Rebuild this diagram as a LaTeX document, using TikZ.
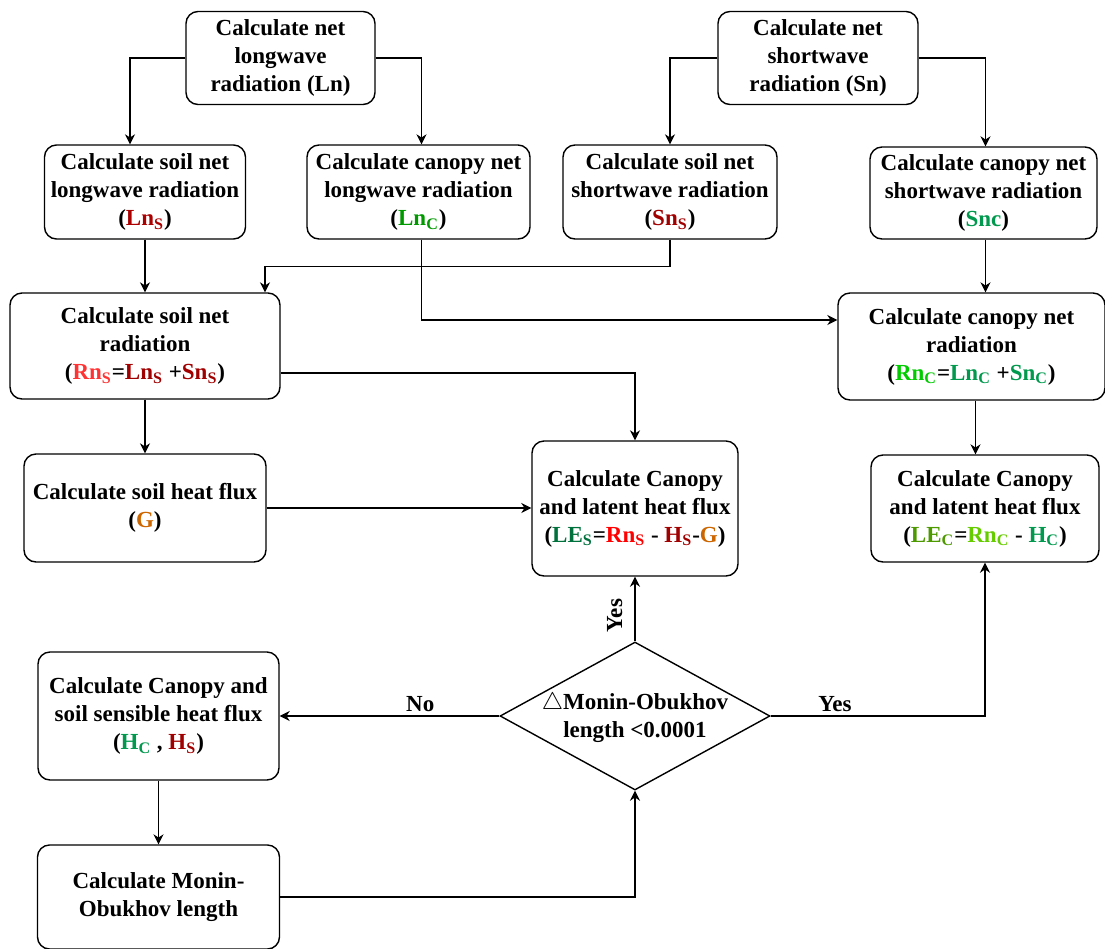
\documentclass[tikz,border=0pt]{standalone}
\usepackage{fontspec}
\setmainfont{Liberation Serif}
\usetikzlibrary{arrows.meta,shapes.geometric}

\definecolor{soilred}{RGB}{160,0,0}
\definecolor{rnsred}{RGB}{255,51,51}
\definecolor{lnsred}{RGB}{170,0,0}
\definecolor{lncgreen}{RGB}{0,153,0}
\definecolor{tealgreen}{RGB}{0,153,77}
\definecolor{rncgreen}{RGB}{0,204,0}
\definecolor{lesgreen}{RGB}{0,112,60}
\definecolor{lecgreen}{RGB}{77,153,0}
\definecolor{limegreen}{RGB}{102,204,0}
\definecolor{gorange}{RGB}{204,102,0}

\tikzset{
  box/.style={draw, rounded corners=6pt, align=center, inner sep=1pt, line width=0.7pt,
    font=\bfseries\fontsize{11.5}{14}\selectfont},
  arr/.style={-{Stealth[length=5pt,width=5pt]}, line width=0.7pt},
  lbl/.style={font=\bfseries\fontsize{11.5}{14}\selectfont, inner sep=2pt},
}

\begin{document}
\begin{tikzpicture}[x=0.5pt,y=-0.5pt]
  \useasboundingbox (0,0) rectangle (1105,949);
  % net radiation, first row
  \node[box, minimum width=94.5pt, minimum height=46.5pt] (ln) at (280.5,58) {Calculate net\\longwave\\radiation (Ln)};
  \node[box, minimum width=100pt, minimum height=46.5pt] (sn) at (818,58) {Calculate net\\shortwave\\radiation (Sn)};
  % soil and canopy parts
  \node[box, minimum width=100.5pt, minimum height=47pt] (slw) at (145,192) {Calculate soil net\\longwave radiation\\({\color{lnsred}Ln\textsubscript{S}})};
  \node[box, minimum width=111.5pt, minimum height=47pt] (clw) at (418.5,192) {Calculate canopy net\\longwave radiation\\({\color{lncgreen}Ln\textsubscript{C}})};
  \node[box, minimum width=107pt, minimum height=47pt] (ssw) at (670,192) {Calculate soil net\\shortwave radiation\\({\color{soilred}Sn\textsubscript{S}})};
  \node[box, minimum width=113.5pt, minimum height=46pt] (csw) at (983.5,193) {Calculate canopy net\\shortwave radiation\\({\color{tealgreen}Snc})};
  \node[box, minimum width=135pt, minimum height=53pt] (snr) at (145,346) {Calculate soil net\\radiation\\({\color{rnsred}Rn\textsubscript{S}}={\color{soilred}Ln\textsubscript{S}} +{\color{soilred}Sn\textsubscript{S}})};
  \node[box, minimum width=133.5pt, minimum height=53.5pt] (cnr) at (971.5,346.5) {Calculate canopy net\\radiation\\({\color{rncgreen}Rn\textsubscript{C}}={\color{tealgreen}Ln\textsubscript{C}} +{\color{tealgreen}Sn\textsubscript{C}})};
  \node[box, minimum width=121pt, minimum height=54pt] (shf) at (145,508) {Calculate soil heat flux\\({\color{gorange}G})};
  \node[box, minimum width=103pt, minimum height=67.5pt] (les) at (635,508.5) {Calculate Canopy\\and latent heat flux\\({\color{lesgreen}LE\textsubscript{S}}={\color{red}Rn\textsubscript{S}} - {\color{soilred}H\textsubscript{S}}-{\color{gorange}G})};
  \node[box, minimum width=114pt, minimum height=53.5pt] (lec) at (985,508.5) {Calculate Canopy\\and latent heat flux\\({\color{lecgreen}LE\textsubscript{C}}={\color{limegreen}Rn\textsubscript{C}} - {\color{tealgreen}H\textsubscript{C}})};
  % iteration loop
  \node[draw, diamond, line width=0.7pt, inner sep=0pt, minimum width=135pt, minimum height=74pt,
    font=\bfseries\fontsize{11.5}{14}\selectfont] (dia) at (635,716)
    {\makebox[0pt]{\smash{\raisebox{-4pt}{\begin{tabular}{@{}c@{}}$\triangle$Monin-Obukhov\\length <0.0001\end{tabular}}}}};
  \node[box, minimum width=120.5pt, minimum height=64pt] (hbox) at (158.5,716) {Calculate Canopy and\\soil sensible heat flux\\({\color{tealgreen}H\textsubscript{C}} , {\color{soilred}H\textsubscript{S}})};
  \node[box, minimum width=121pt, minimum height=52pt] (mo) at (158.5,897) {Calculate Monin-\\Obukhov length};

  \draw[arr] (ln.west) -| ([xshift=-7.5pt]slw.north);
  \draw[arr] (ln.east) -| ([xshift=1.5pt]clw.north);
  \draw[arr] (sn.west) -| (ssw.north);
  \draw[arr] (sn.east) -| ([xshift=1pt]csw.north);
  \draw[arr] (slw.south) -- (slw.south |- snr.north);
  \draw[arr] (ssw.south) -- ++(0,-13.5pt) -| ([xshift=60pt]snr.north);
  \draw[arr] ([xshift=1.5pt]clw.south) |- ([yshift=13.25pt]cnr.west);
  \draw[arr] ([xshift=1pt]csw.south) -- ([xshift=1pt]csw.south |- cnr.north);
  \draw[arr] ([yshift=-13.5pt]snr.east) -| (les.north);
  \draw[arr] (snr.south) -- (snr.south |- shf.north);
  \draw[arr] (shf.east) -- (shf.east -| les.west);
  \draw[arr] ([xshift=2pt]cnr.south) -- ([xshift=2pt]cnr.south |- lec.north);
  \draw[arr] (dia.north) -- node[lbl, pos=0.4, rotate=90, above, yshift=4pt] {Yes} (les.south);
  \draw[arr] (dia.east) -| node[lbl, pos=0.15, above] {Yes} (lec.south);
  \draw[arr] (dia.west) -- node[lbl, pos=0.36, above] {No} (hbox.east);
  \draw[arr] (hbox.south) -- (hbox.south |- mo.north);
  \draw[arr] (mo.east) -| (dia.south);
\end{tikzpicture}
\end{document}
